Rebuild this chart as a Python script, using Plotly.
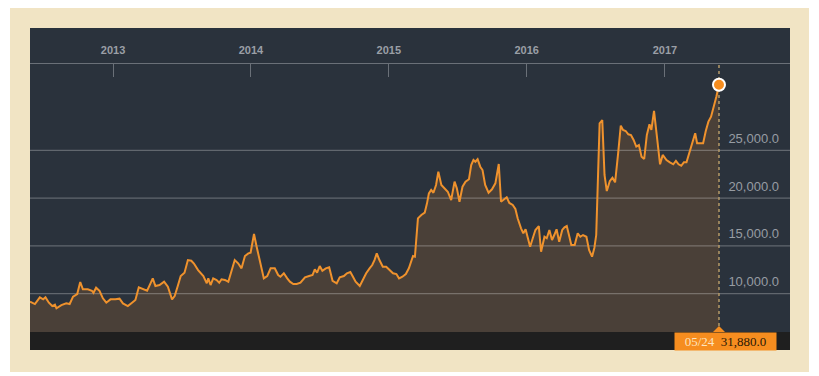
import plotly.graph_objects as go
from datetime import datetime

# ---------------- data ----------------
dates = [
    "2012-05-26", "2012-06-08", "2012-06-21", "2012-06-30", "2012-07-06", "2012-07-15", "2012-07-24", "2012-07-31",
    "2012-08-04", "2012-08-17", "2012-08-30", "2012-09-08", "2012-09-17", "2012-09-28", "2012-10-06", "2012-10-13",
    "2012-10-26", "2012-11-06", "2012-11-10", "2012-11-17", "2012-11-26", "2012-12-05", "2012-12-14", "2012-12-25",
    "2013-01-07", "2013-01-18", "2013-01-27", "2013-02-09", "2013-02-20", "2013-03-01", "2013-03-10", "2013-03-21",
    "2013-04-01", "2013-04-10", "2013-04-16", "2013-04-23", "2013-05-04", "2013-05-16", "2013-05-26", "2013-06-06",
    "2013-06-13", "2013-06-22", "2013-06-29", "2013-07-09", "2013-07-18", "2013-07-27", "2013-08-03", "2013-08-14",
    "2013-08-28", "2013-09-06", "2013-09-10", "2013-09-16", "2013-09-23", "2013-10-02", "2013-10-09", "2013-10-15",
    "2013-10-24", "2013-11-02", "2013-11-11", "2013-11-19", "2013-11-28", "2013-12-07", "2013-12-16", "2013-12-25",
    "2013-12-31", "2014-01-09", "2014-01-16", "2014-01-25", "2014-02-04", "2014-02-13", "2014-02-22", "2014-03-05",
    "2014-03-14", "2014-03-20", "2014-03-29", "2014-04-07", "2014-04-14", "2014-04-23", "2014-05-02", "2014-05-12",
    "2014-05-24", "2014-06-04", "2014-06-13", "2014-06-19", "2014-06-25", "2014-07-02", "2014-07-09", "2014-07-18",
    "2014-07-27", "2014-08-05", "2014-08-16", "2014-08-24", "2014-09-04", "2014-09-12", "2014-09-21", "2014-09-28",
    "2014-10-05", "2014-10-16", "2014-10-24", "2014-11-02", "2014-11-11", "2014-11-18", "2014-11-24", "2014-11-30",
    "2014-12-07", "2014-12-16", "2014-12-25", "2015-01-03", "2015-01-12", "2015-01-21", "2015-01-28", "2015-02-06",
    "2015-02-15", "2015-02-23", "2015-03-02", "2015-03-06", "2015-03-11", "2015-03-15", "2015-03-19", "2015-03-28",
    "2015-04-06", "2015-04-12", "2015-04-17", "2015-04-23", "2015-04-29", "2015-05-06", "2015-05-12", "2015-05-20",
    "2015-05-28", "2015-06-06", "2015-06-15", "2015-06-24", "2015-06-30", "2015-07-07", "2015-07-15", "2015-07-23",
    "2015-08-01", "2015-08-07", "2015-08-13", "2015-08-18", "2015-08-24", "2015-08-31", "2015-09-06", "2015-09-13",
    "2015-09-22", "2015-10-01", "2015-10-10", "2015-10-19", "2015-10-25", "2015-11-03", "2015-11-09", "2015-11-16",
    "2015-11-25", "2015-12-02", "2015-12-08", "2015-12-17", "2015-12-23", "2015-12-29", "2016-01-04", "2016-01-10",
    "2016-01-17", "2016-01-24", "2016-02-02", "2016-02-08", "2016-02-17", "2016-02-23", "2016-03-01", "2016-03-08",
    "2016-03-14", "2016-03-20", "2016-03-27", "2016-04-04", "2016-04-10", "2016-04-16", "2016-04-23", "2016-04-28",
    "2016-05-07", "2016-05-15", "2016-05-22", "2016-05-29", "2016-06-07", "2016-06-14", "2016-06-22", "2016-06-28",
    "2016-07-03", "2016-07-08", "2016-07-12", "2016-07-19", "2016-07-25", "2016-07-31", "2016-08-08", "2016-08-15",
    "2016-08-22", "2016-08-30", "2016-09-06", "2016-09-12", "2016-09-19", "2016-09-26", "2016-10-03", "2016-10-10",
    "2016-10-17", "2016-10-24", "2016-10-31", "2016-11-07", "2016-11-14", "2016-11-21", "2016-11-26", "2016-12-03",
    "2016-12-09", "2016-12-19", "2016-12-26", "2017-01-05", "2017-01-14", "2017-01-23", "2017-01-30", "2017-02-06",
    "2017-02-13", "2017-02-20", "2017-02-27", "2017-03-08", "2017-03-17", "2017-03-22", "2017-03-27", "2017-04-03",
    "2017-04-12", "2017-04-19", "2017-04-26", "2017-05-03", "2017-05-10", "2017-05-17", "2017-05-24",
]

values = [
    9150, 8910, 9610, 9400, 9610, 9050, 8700, 8840,
    8460, 8800, 8980, 8910, 9680, 9960, 11220, 10450,
    10450, 10300, 10090, 10620, 10300, 9510, 9050, 9400,
    9400, 9470, 8980, 8700, 9050, 9330, 10660, 10450,
    10300, 11080, 11600, 10800, 10900, 11250, 10720, 9400,
    9750, 10900, 11840, 12190, 13520, 13450, 13150, 12470,
    11840, 11080, 11600, 10900, 11600, 11430, 11140, 11500,
    11430, 11250, 12470, 13520, 13180, 12650, 13940, 14220,
    14290, 16250, 14920, 13340, 11600, 11840, 12650, 12650,
    11950, 11770, 12130, 11600, 11250, 11010, 11010, 11140,
    11710, 11840, 11950, 12550, 12190, 12890, 12400, 12650,
    12760, 11350, 11080, 11710, 11840, 12130, 12260, 11770,
    11250, 10800, 11430, 12130, 12650, 13000, 13520, 14220,
    13520, 12820, 12820, 12470, 12130, 12050, 11600, 11770,
    12050, 12650, 13340, 13940, 13870, 16320, 17890, 18240,
    18480, 19460, 20510, 20860, 20570, 21380, 22780, 21380,
    21030, 20680, 19810, 21730, 21030, 19630, 21200, 21730,
    21980, 23480, 24000, 23820, 24080, 23300, 22950, 21380,
    20570, 20930, 21560, 23580, 19630, 19880, 20090, 19500,
    19290, 18870, 17890, 16840, 16320, 16740, 15800, 14920,
    15800, 16670, 17080, 14390, 15960, 15800, 16670, 15620,
    16140, 16740, 15440, 16670, 16950, 17080, 15960, 15090,
    15090, 16320, 15960, 16140, 15960, 14570, 13870, 14780,
    16140, 22430, 27850, 28190, 22430, 20750, 21800, 22150,
    21660, 24700, 27600, 27150, 27040, 26690, 26620, 26100,
    25400, 25570, 24350, 24110, 26620, 27740, 27150, 29140,
    27150, 23550, 24530, 24000, 23760, 23550, 23900, 23550,
    23400, 23760, 23760, 24870, 26100, 26800, 25750, 25750,
    25750, 27040, 28020, 28540, 29480, 30640, 31880,
]

year_ticks = ["2013-01-01", "2014-01-01", "2015-01-01", "2016-01-01", "2017-01-01"]
year_labels = ["2013", "2014", "2015", "2016", "2017"]
y_ticks = [10000, 15000, 20000, 25000]

X_RANGE = ["2012-05-26", "2017-11-28"]
Y_RANGE = [5980, 34060]

# ---------------- geometry ----------------
# the page body has an 8px margin, so the figure is placed at (8, 8) on screen
BODY = 8
SCREEN_W, SCREEN_H = 819, 376
PLOT_L, PLOT_R, PLOT_T, PLOT_B = 30, 790, 64, 332      # screen pixels of the plot area
W, H = SCREEN_W - BODY, SCREEN_H - BODY
ML, MT = PLOT_L - BODY, PLOT_T - BODY
PW, PH = PLOT_R - PLOT_L, PLOT_B - PLOT_T
MR, MB = W - ML - PW, H - MT - PH


def px(x):
    return (x - PLOT_L) / PW


def py(y):
    return (PLOT_B - y) / PH


PANEL = "#2a323c"
FILL = "#4a4038"
LINE = "#ef922d"
ORANGE = "#f68d1f"
GRID = "rgba(255,255,255,0.26)"
AXIS = "#6a7078"

last_date = dates[-1]
last_val = values[-1]

fig = go.Figure()

fig.add_trace(go.Scatter(x=dates, y=values, mode="lines", line=dict(width=0, color=FILL),
                         fill="tozeroy", fillcolor=FILL, hoverinfo="skip", showlegend=False))
for v in y_ticks:
    fig.add_trace(go.Scatter(x=X_RANGE, y=[v, v], mode="lines", line=dict(color=GRID, width=1.2),
                             hoverinfo="skip", showlegend=False))
fig.add_trace(go.Scatter(x=dates, y=values, mode="lines", line=dict(color=LINE, width=2),
                         showlegend=False))
fig.add_trace(go.Scatter(x=[last_date, last_date], y=Y_RANGE, mode="lines",
                         line=dict(color="#b59a68", width=1.5, dash="dot"),
                         hoverinfo="skip", showlegend=False))
fig.add_trace(go.Scatter(x=[last_date], y=[last_val], mode="markers",
                         marker=dict(size=12, color=ORANGE, line=dict(color="white", width=2)),
                         showlegend=False))

shapes = [
    dict(type="rect", xref="paper", yref="paper", x0=px(10), x1=px(809), y0=py(372), y1=py(8),
         fillcolor="#f1e4c4", line=dict(width=0), layer="below"),
    dict(type="rect", xref="paper", yref="paper", x0=0, x1=1, y0=py(350), y1=py(28),
         fillcolor=PANEL, line=dict(width=0), layer="below"),
    dict(type="rect", xref="paper", yref="paper", x0=0, x1=1, y0=py(350), y1=0,
         fillcolor="#1f1f1f", line=dict(width=0), layer="below"),
    dict(type="path", xref="x", yref="paper", xsizemode="pixel", ysizemode="pixel",
         xanchor=last_date, yanchor=0, path="M-6,0 L6,0 L0,6 Z",
         fillcolor=ORANGE, line=dict(width=0), layer="above"),
]

label_date = datetime.strptime(last_date, "%Y-%m-%d").strftime("%m/%d")
label_text = (f"<span style='color:#fde3bf'>{label_date}</span>  "
              f"<span style='color:#2a1806'>{last_val:,.1f}</span>")

annotations = [
    dict(x=last_date, xref="x", y=py(341), yref="paper", text=label_text, showarrow=False,
         xanchor="center", yanchor="middle", xshift=7, bgcolor=ORANGE, width=99, height=15,
         borderpad=1, font=dict(family="Liberation Serif", size=13)),
]

fig.update_layout(
    width=W, height=H,
    margin=dict(l=ML, r=MR, t=MT, b=MB, pad=0),
    paper_bgcolor="white", plot_bgcolor=PANEL,
    shapes=shapes, annotations=annotations, showlegend=False,
    xaxis=dict(type="date", range=X_RANGE, side="top", tickvals=year_ticks, ticktext=year_labels,
               ticks="inside", ticklen=13, tickcolor=AXIS, tickwidth=1,
               showline=True, linecolor=AXIS, linewidth=1, showgrid=False, zeroline=False,
               tickfont=dict(family="Liberation Sans", size=11, color="#9a9fa6", weight="bold"),
               ticklabelstandoff=5, fixedrange=True),
    yaxis=dict(range=Y_RANGE, side="right", tickvals=y_ticks, tickformat=",.1f",
               ticklabelposition="inside", ticks="", showgrid=False, zeroline=False, showline=False,
               tickfont=dict(family="Liberation Sans", size=13, color="#979ca3"),
               ticklabelshift=-12, ticklabelstandoff=8, fixedrange=True),
)

fig.write_html("out.html")
